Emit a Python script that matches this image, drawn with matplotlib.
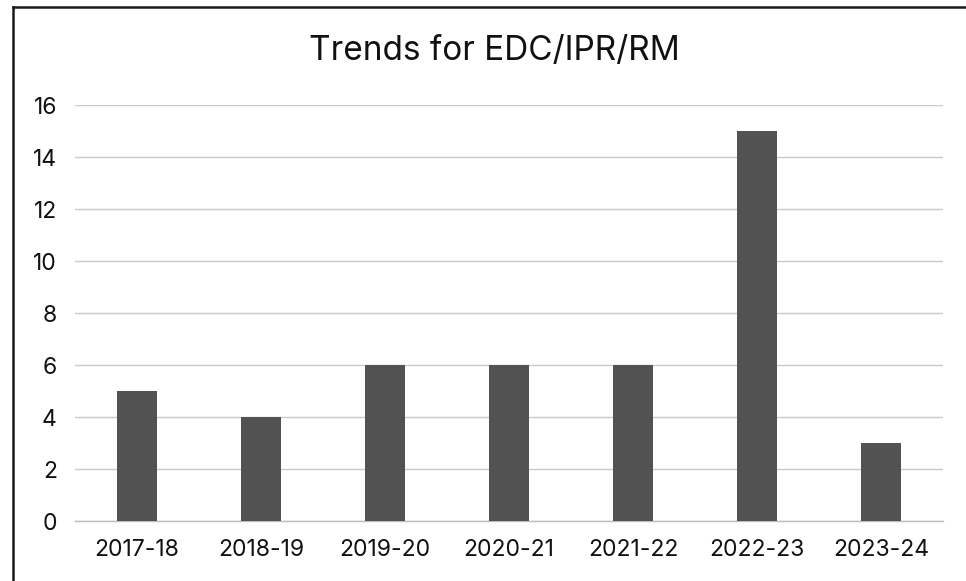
import matplotlib
matplotlib.use("Agg")
import matplotlib.pyplot as plt
from matplotlib.lines import Line2D

years = ["2017-18", "2018-19", "2019-20", "2020-21", "2021-22", "2022-23", "2023-24"]
counts = [5, 4, 6, 6, 6, 15, 3]
y_ticks = [0, 2, 4, 6, 8, 10, 12, 14, 16]
title = "Trends for EDC/IPR/RM"

plt.rcParams["font.family"] = ["Inter", "DejaVu Sans"]

W, H = 966, 581
fig = plt.figure(figsize=(W / 100, H / 100), dpi=100)
fig.patch.set_facecolor("white")

left, right, bottom_px, top_px = 75, 943, 521, 105
ax = fig.add_axes([left / W, (H - bottom_px) / H, (right - left) / W, (bottom_px - top_px) / H])

x = range(len(years))
ax.bar(x, counts, width=0.32, color="#525252", zorder=3)

ax.set_xlim(-0.5, len(years) - 0.5)
ax.set_ylim(0, 16)
ax.set_yticks(y_ticks)
ax.set_xticks(list(x))
ax.set_xticklabels(years)
ax.yaxis.grid(True, color="#cacaca", linewidth=1.0, zorder=0)
ax.set_axisbelow(True)
for s in ["top", "right", "left"]:
    ax.spines[s].set_visible(False)
ax.spines["bottom"].set_color("#bdbdbd")
ax.spines["bottom"].set_linewidth(1.0)
ax.tick_params(axis="both", length=0, labelsize=16.5, colors="#111111")
ax.tick_params(axis="y", pad=13)
ax.tick_params(axis="x", pad=13)

fig.text(494 / W, 1 - 51 / H, title, ha="center", va="center", fontsize=24, color="#111111")

# frame around the chart area
fig.add_artist(Line2D([13 / W, 13 / W], [0, 1 - 7 / H], color="#1a1a1a", linewidth=1.8, transform=fig.transFigure))
fig.add_artist(Line2D([13 / W, 1], [1 - 7 / H, 1 - 7 / H], color="#1a1a1a", linewidth=1.8, transform=fig.transFigure))

fig.savefig("out.png", dpi=100, facecolor="white")
